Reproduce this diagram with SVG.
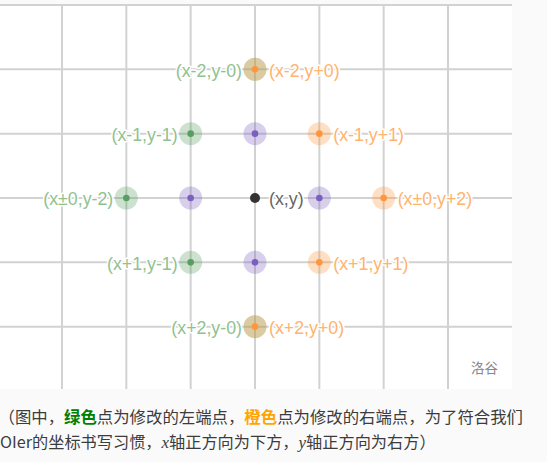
<svg xmlns="http://www.w3.org/2000/svg" width="547" height="462" viewBox="0 0 547 462">
<style>
.grid line{stroke:#d2d2d2;stroke-width:2}
.lbl{font-family:"Liberation Sans",Arial,sans-serif;font-size:17.8px;paint-order:stroke;stroke:#fff;stroke-width:3px;stroke-linejoin:round}
.lg{fill:#8fc28f;text-anchor:end}
.lo{fill:#ffb36e}
.lk{fill:#666}
.hg{fill:#55a05f;opacity:.3}
.ho{fill:#ff963c;opacity:.3}
.hp{fill:#7a5fbe;opacity:.3}
.dg{fill:#55a05f}
.do{fill:#ff963c}
.dp{fill:#7a5fbe}
.dk{fill:#333}
.cap{font-family:"Noto Sans CJK SC","Noto Sans",sans-serif;font-size:16.4px;fill:#3c3c3c}
.cap2{font-size:16.2px}
.math{font-family:"Liberation Serif","DejaVu Serif",serif;font-style:italic;font-size:17px}
</style>
<rect width="547" height="462" fill="#fafafa"/>
<rect x="0" y="4" width="512" height="385" fill="#fff"/>
<g class="grid">
<line x1="0" y1="5" x2="512" y2="5"/>
<line x1="0" y1="69.33" x2="512" y2="69.33"/>
<line x1="0" y1="133.67" x2="512" y2="133.67"/>
<line x1="0" y1="198" x2="512" y2="198"/>
<line x1="0" y1="262.33" x2="512" y2="262.33"/>
<line x1="0" y1="326.67" x2="512" y2="326.67"/>
<line x1="62" y1="4" x2="62" y2="389"/>
<line x1="126.33" y1="4" x2="126.33" y2="389"/>
<line x1="190.67" y1="4" x2="190.67" y2="389"/>
<line x1="255" y1="4" x2="255" y2="389"/>
<line x1="319.33" y1="4" x2="319.33" y2="389"/>
<line x1="383.67" y1="4" x2="383.67" y2="389"/>
<line x1="448" y1="4" x2="448" y2="389"/>
</g>
<g id="connectors"></g>
<g id="node-xm2">
<circle class="hg" cx="255" cy="69.33" r="11.5"/>
<circle class="ho" cx="255" cy="69.33" r="11.5"/>
<circle class="do" cx="255" cy="69.33" r="3.3"/>
<text class="lbl lg" x="242" y="76.6">(x-2,y-0)</text>
<text class="lbl lo" x="269" y="76.6">(x-2,y+0)</text>
</g>
<g id="node-xm1-ym1">
<circle class="hg" cx="190.67" cy="133.67" r="11.5"/>
<circle class="dg" cx="190.67" cy="133.67" r="3.3"/>
<text class="lbl lg" x="177.7" y="140.9">(x-1,y-1)</text>
</g>
<g id="node-xm1-y0">
<circle class="hp" cx="255" cy="133.67" r="11.5"/>
<circle class="dp" cx="255" cy="133.67" r="3.3"/>
</g>
<g id="node-xm1-yp1">
<circle class="ho" cx="319.33" cy="133.67" r="11.5"/>
<circle class="do" cx="319.33" cy="133.67" r="3.3"/>
<text class="lbl lo" x="333.3" y="140.9">(x-1,y+1)</text>
</g>
<g id="node-x0-ym2">
<circle class="hg" cx="126.33" cy="198" r="11.5"/>
<circle class="dg" cx="126.33" cy="198" r="3.3"/>
<text class="lbl lg" x="113.3" y="205.3">(x±0,y-2)</text>
</g>
<g id="node-x0-ym1">
<circle class="hp" cx="190.67" cy="198" r="11.5"/>
<circle class="dp" cx="190.67" cy="198" r="3.3"/>
</g>
<g id="node-center">
<circle class="dk" cx="255" cy="198" r="5"/>
<text class="lbl lk" x="269" y="205.3">(x,y)</text>
</g>
<g id="node-x0-yp1">
<circle class="hp" cx="319.33" cy="198" r="11.5"/>
<circle class="dp" cx="319.33" cy="198" r="3.3"/>
</g>
<g id="node-x0-yp2">
<circle class="ho" cx="383.67" cy="198" r="11.5"/>
<circle class="do" cx="383.67" cy="198" r="3.3"/>
<text class="lbl lo" x="397.7" y="205.3">(x±0,y+2)</text>
</g>
<g id="node-xp1-ym1">
<circle class="hg" cx="190.67" cy="262.33" r="11.5"/>
<circle class="dg" cx="190.67" cy="262.33" r="3.3"/>
<text class="lbl lg" x="177.7" y="269.6">(x+1,y-1)</text>
</g>
<g id="node-xp1-y0">
<circle class="hp" cx="255" cy="262.33" r="11.5"/>
<circle class="dp" cx="255" cy="262.33" r="3.3"/>
</g>
<g id="node-xp1-yp1">
<circle class="ho" cx="319.33" cy="262.33" r="11.5"/>
<circle class="do" cx="319.33" cy="262.33" r="3.3"/>
<text class="lbl lo" x="333.3" y="269.6">(x+1,y+1)</text>
</g>
<g id="node-xp2">
<circle class="hg" cx="255" cy="326.67" r="11.5"/>
<circle class="ho" cx="255" cy="326.67" r="11.5"/>
<circle class="do" cx="255" cy="326.67" r="3.3"/>
<text class="lbl lg" x="242" y="333.9">(x+2,y-0)</text>
<text class="lbl lo" x="269" y="333.9">(x+2,y+0)</text>
</g>
<text x="471" y="373" font-family="'Noto Sans CJK SC',sans-serif" font-size="13.5" fill="#888">洛谷</text>
<text class="cap" x="-1.5" y="423">（图中，<tspan font-weight="bold" fill="#008000">绿色</tspan>点为修改的左端点，<tspan font-weight="bold" fill="#ffa500">橙色</tspan>点为修改的右端点，为了符合我们</text>
<text class="cap cap2" x="0" y="448">OIer的坐标书写习惯，<tspan class="math">x</tspan>轴正方向为下方，<tspan class="math">y</tspan>轴正方向为右方）</text>
</svg>
